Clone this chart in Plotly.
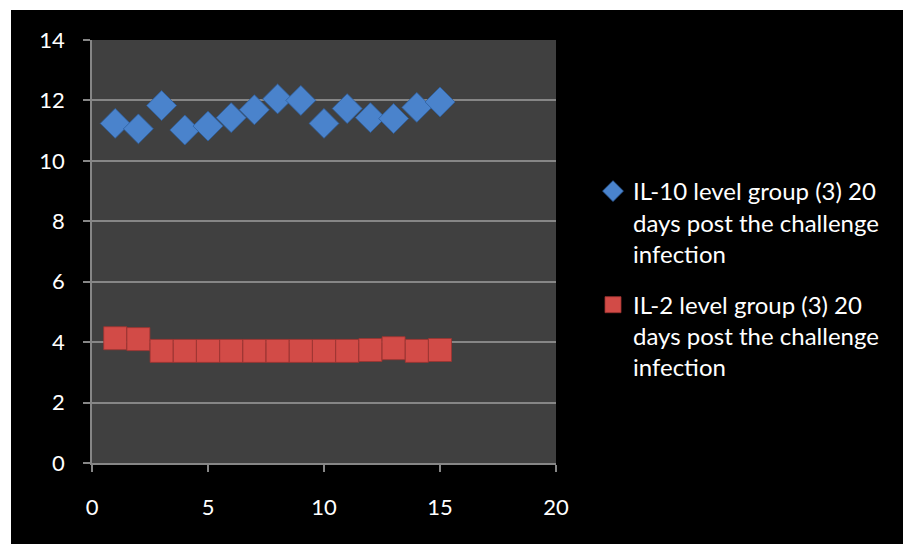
import plotly.graph_objects as go

x_vals = list(range(1, 16))
il10 = [11.24, 11.06, 11.83, 11.02, 11.15, 11.43, 11.69, 12.05, 12.0, 11.24, 11.73, 11.43, 11.4, 11.77, 11.95]
il2 = [4.13, 4.1, 3.71, 3.71, 3.71, 3.71, 3.71, 3.71, 3.71, 3.71, 3.71, 3.74, 3.8, 3.71, 3.74]
name10 = "IL-10 level group (3) 20<br>days post the challenge<br>infection"
name2 = "IL-2 level group (3) 20<br>days post the challenge<br>infection"

W, H = 903, 544
L, R, T, B = 92, 556, 40, 463

fig = go.Figure()
fig.add_trace(go.Scatter(
    x=x_vals, y=il10, mode="markers", name=name10, legendgroup="a",
    marker=dict(symbol="diamond", size=23, color="#4a83cc",
                line=dict(color="#2f5f9e", width=0.8)),
))
fig.add_trace(go.Scatter(
    x=x_vals, y=il2, mode="markers", name=name2, legendgroup="b",
    marker=dict(symbol="square", size=23, color="#d24b47",
                line=dict(color="#9c3431", width=0.8)),
))

pw, ph = R - L, B - T
fig.add_shape(type="rect", xref="paper", yref="paper", layer="below",
              x0=(0 - L) / pw - 0.01, x1=(11 - L) / pw, y0=(B - H) / ph - 0.01, y1=(B + 0) / ph + 0.01,
              fillcolor="white", line_width=0)
fig.add_shape(type="rect", xref="paper", yref="paper", layer="below",
              x0=(0 - L) / pw - 0.01, x1=(W - L) / pw + 0.01, y0=(B - 10) / ph, y1=(B + 0) / ph + 0.01,
              fillcolor="white", line_width=0)

fig.update_layout(
    width=W, height=H,
    margin=dict(l=L, r=W - R, t=T, b=H - B, pad=0),
    paper_bgcolor="black", plot_bgcolor="#404040",
    font=dict(family="Lato, Open Sans, sans-serif", size=22, color="white"),
    showlegend=True,
    legend=dict(x=(593 - L) / pw, y=(B - 169) / ph, xanchor="left", yanchor="top",
                font=dict(size=24, color="white"), tracegroupgap=17, valign="top",
                bgcolor="rgba(0,0,0,0)", itemsizing="trace"),
    xaxis=dict(range=[0, 20], dtick=5, showgrid=False, zeroline=False,
               showline=True, linecolor="#868686", linewidth=1.5,
               ticks="outside", ticklen=7, tickcolor="#868686", tickwidth=1.5,
               tickfont=dict(size=22, color="white"), ticklabelstandoff=17),
    yaxis=dict(range=[0, 14], dtick=2, showgrid=True, gridcolor="#868686", gridwidth=1.5,
               zeroline=False, showline=True, linecolor="#868686", linewidth=1.5,
               ticks="outside", ticklen=7, tickcolor="#868686", tickwidth=1.5,
               tickfont=dict(size=22, color="white"), ticklabelstandoff=14),
)

fig.write_html("out.html", config={"displayModeBar": False},
               post_script="document.body.style.margin='0';document.body.style.overflow='hidden';")
